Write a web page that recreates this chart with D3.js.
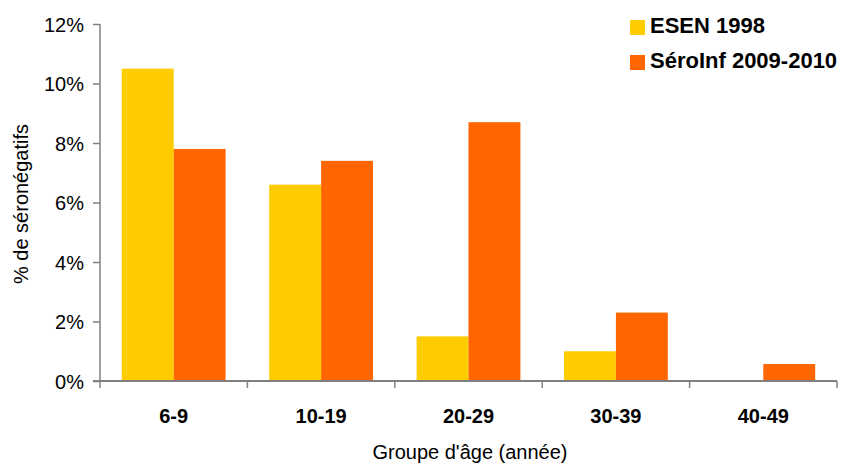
<!DOCTYPE html>
<html>
<head>
<meta charset="utf-8">
<script src="https://cdn.jsdelivr.net/npm/d3@7"></script>
<style>
  body { margin: 0; background: #fff; }
  text { font-family: "Liberation Sans", Arial, sans-serif; fill: #000; }
</style>
</head>
<body>
<svg width="845" height="468"></svg>
<script>
const ageGroups = ["6-9", "10-19", "20-29", "30-39", "40-49"];
const seriesNames = ["ESEN 1998", "SéroInf 2009-2010"];
const esen1998 = [10.5, 6.6, 1.5, 1.0, 0];
const seroinf = [7.8, 7.4, 8.7, 2.3, 0.57];
const yTicks = [0, 2, 4, 6, 8, 10, 12];

const colors = ["#FFCC00", "#FF6600"];
const svg = d3.select("svg");

const plotLeft = 100, plotRight = 837, plotTop = 24, plotBottom = 381;

const x = d3.scaleBand()
  .domain(ageGroups)
  .range([plotLeft, plotRight])
  .paddingInner(0)
  .paddingOuter(0);

const xSub = d3.scaleBand()
  .domain(seriesNames)
  .range([0, x.bandwidth()])
  .paddingOuter(0.42)
  .paddingInner(0);

const y = d3.scaleLinear()
  .domain([0, 12])
  .range([plotBottom, plotTop]);

const rows = ageGroups.map((g, i) => ({
  group: g,
  values: [esen1998[i], seroinf[i]]
}));

// bars
const groups = svg.selectAll("g.grp")
  .data(rows)
  .enter()
  .append("g")
  .attr("class", "grp")
  .attr("transform", d => `translate(${x(d.group)},0)`);

groups.selectAll("rect")
  .data(d => d.values.map((v, j) => ({ name: seriesNames[j], v: v, j: j })))
  .enter()
  .append("rect")
  .attr("x", d => xSub(d.name))
  .attr("width", xSub.bandwidth())
  .attr("y", d => y(d.v))
  .attr("height", d => plotBottom - y(d.v))
  .attr("fill", d => colors[d.j]);

// y axis
const yAxis = svg.append("g")
  .attr("transform", `translate(${plotLeft},0)`)
  .call(d3.axisLeft(y).tickValues(yTicks).tickSize(7).tickSizeOuter(0)
    .tickFormat(d => d + "%"));
yAxis.select(".domain").remove();
yAxis.append("line")
  .attr("x1", 0).attr("x2", 0)
  .attr("y1", plotTop).attr("y2", plotBottom + 7)
  .attr("stroke", "#808080").attr("stroke-width", 1.5);
yAxis.selectAll(".tick line").attr("stroke", "#808080").attr("stroke-width", 1.5);
yAxis.selectAll(".tick text")
  .attr("x", -16)
  .attr("dy", "0.35em")
  .attr("fill", "#000")
  .style("font-size", "20px")
  .style("font-family", "'Liberation Sans', Arial, sans-serif");

// x axis
const xAxis = svg.append("g");
xAxis.append("line")
  .attr("x1", plotLeft - 7).attr("x2", plotRight)
  .attr("y1", plotBottom).attr("y2", plotBottom)
  .attr("stroke", "#808080").attr("stroke-width", 2);
xAxis.selectAll("line.xt")
  .data(ageGroups.slice(1).concat(["end"]))
  .enter()
  .append("line")
  .attr("class", "xt")
  .attr("x1", d => d === "end" ? plotRight : x(d))
  .attr("x2", d => d === "end" ? plotRight : x(d))
  .attr("y1", plotBottom).attr("y2", plotBottom + 7)
  .attr("stroke", "#808080").attr("stroke-width", 1.5);
xAxis.selectAll("text")
  .data(ageGroups)
  .enter()
  .append("text")
  .attr("x", d => x(d) + x.bandwidth() / 2)
  .attr("y", 423)
  .attr("text-anchor", "middle")
  .style("font-size", "20px")
  .style("font-weight", "bold")
  .text(d => d);

// axis titles
svg.append("text")
  .attr("x", 470)
  .attr("y", 459)
  .attr("text-anchor", "middle")
  .style("font-size", "20px")
  .text("Groupe d'âge (année)");

svg.append("text")
  .attr("transform", "translate(28,204) rotate(-90)")
  .attr("text-anchor", "middle")
  .style("font-size", "20px")
  .text("% de séronégatifs");

// legend
const legend = svg.selectAll("g.leg")
  .data(seriesNames)
  .enter()
  .append("g")
  .attr("class", "leg")
  .attr("transform", (d, i) => `translate(630,${20 + i * 35})`);
legend.append("rect")
  .attr("width", 15).attr("height", 15)
  .attr("fill", (d, i) => colors[i]);
legend.append("text")
  .attr("x", 20)
  .attr("y", 13)
  .style("font-size", "22px")
  .style("font-weight", "bold")
  .text(d => d);
</script>
</body>
</html>
